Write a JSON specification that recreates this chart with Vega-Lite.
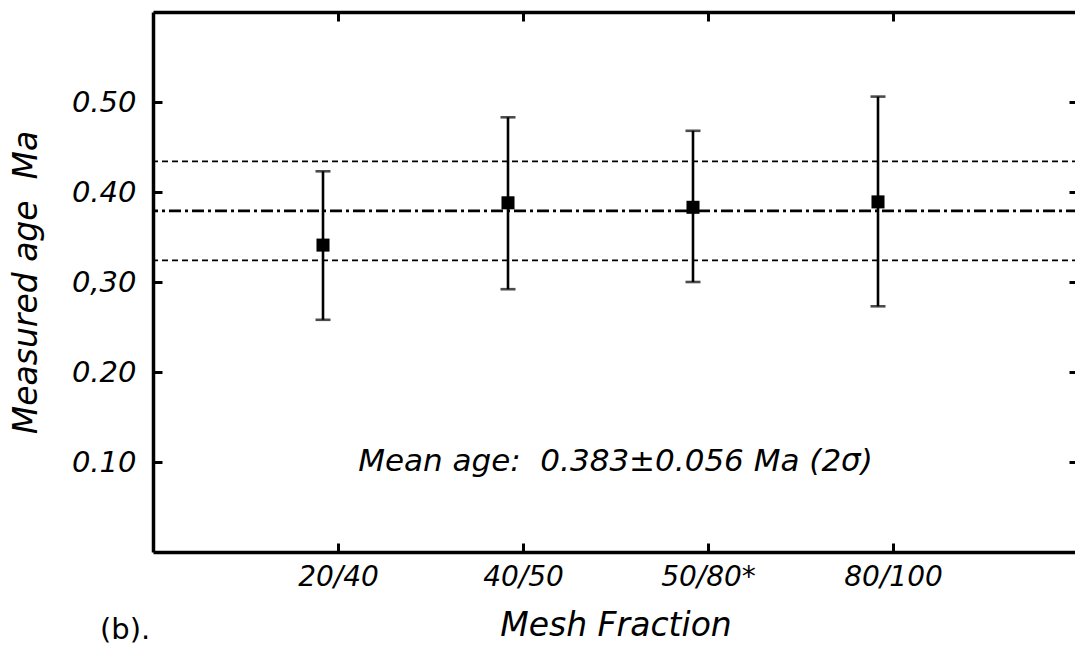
{
  "$schema": "https://vega.github.io/schema/vega-lite/v6.json",
  "autosize": "none",
  "padding": {"left": 153, "top": 12, "right": 0, "bottom": 102},
  "width": 925,
  "height": 540,
  "background": "white",
  "datasets": {
    "samples": [
      {"mesh": "20/40", "pos": 1, "age": 0.341, "lo": 0.258, "hi": 0.423},
      {"mesh": "40/50", "pos": 2, "age": 0.388, "lo": 0.292, "hi": 0.483},
      {"mesh": "50/80*", "pos": 3, "age": 0.383, "lo": 0.300, "hi": 0.468},
      {"mesh": "80/100", "pos": 4, "age": 0.389, "lo": 0.273, "hi": 0.506}
    ],
    "lines": [
      {"kind": "upper", "v": 0.434},
      {"kind": "mean", "v": 0.379},
      {"kind": "lower", "v": 0.324}
    ]
  },
  "layer": [
    {
      "data": {"name": "lines"},
      "transform": [{"filter": "datum.kind != 'mean'"}],
      "mark": {"type": "rule", "color": "black", "strokeWidth": 1.6, "strokeDash": [6, 4]},
      "encoding": {
        "y": {"field": "v", "type": "quantitative", "scale": {"domain": [0, 0.6]},
          "axis": {"orient": "left", "values": [0.1, 0.2, 0.3, 0.4, 0.5], "title": "Measured age\u00a0\u00a0Ma",
            "labelExpr": "datum.value == 0.3 ? '0,30' : format(datum.value, '.2f')", "labelPadding": 26, "titlePadding": 28, "labelFontSize": 29}}
      }
    },
    {
      "data": {"name": "lines"},
      "transform": [{"filter": "datum.kind == 'mean'"}],
      "mark": {"type": "rule", "color": "black", "strokeWidth": 2.6, "strokeDash": [12, 4, 3, 4]},
      "encoding": {
        "y": {"field": "v", "type": "quantitative", "scale": {"domain": [0, 0.6]},
          "axis": {"orient": "right", "values": [0.1, 0.2, 0.3, 0.4, 0.5], "labels": false, "domain": false, "title": null}}
      }
    },
    {
      "data": {"name": "samples"},
      "mark": {"type": "rule", "color": "black", "strokeWidth": 2.6, "xOffset": -15},
      "encoding": {
        "x": {"field": "pos", "type": "quantitative", "scale": {"domain": [0, 5]},
          "axis": {"orient": "bottom", "values": [1, 2, 3, 4], "title": "Mesh Fraction",
            "labelExpr": "datum.value == 1 ? '20/40' : datum.value == 2 ? '40/50' : datum.value == 3 ? '50/80*' : '80/100'",
            "labelPadding": 20, "titlePadding": 18}},
        "y": {"field": "lo", "type": "quantitative", "axis": null},
        "y2": {"field": "hi"}
      }
    },
    {
      "data": {"name": "samples"},
      "mark": {"type": "tick", "color": "black", "orient": "horizontal", "size": 15, "thickness": 2.6, "xOffset": -15},
      "encoding": {
        "x": {"field": "pos", "type": "quantitative", "scale": {"domain": [0, 5]},
          "axis": {"orient": "top", "values": [1, 2, 3, 4], "labels": false, "title": null}},
        "y": {"field": "hi", "type": "quantitative", "axis": null}
      }
    },
    {
      "data": {"name": "samples"},
      "mark": {"type": "tick", "color": "black", "orient": "horizontal", "size": 15, "thickness": 2.6, "xOffset": -15},
      "encoding": {
        "x": {"field": "pos", "type": "quantitative", "axis": null},
        "y": {"field": "lo", "type": "quantitative", "axis": null}
      }
    },
    {
      "data": {"name": "samples"},
      "mark": {"type": "point", "shape": "square", "filled": true, "color": "black", "size": 170, "opacity": 1, "xOffset": -15},
      "encoding": {
        "x": {"field": "pos", "type": "quantitative", "axis": null},
        "y": {"field": "age", "type": "quantitative", "axis": null}
      }
    },
    {
      "data": {"values": [{}]},
      "mark": {"type": "text", "font": "DejaVu Sans", "fontStyle": "italic", "fontSize": 31, "color": "black", "align": "center", "baseline": "middle"},
      "encoding": {
        "x": {"datum": 2.5, "type": "quantitative", "axis": null},
        "y": {"datum": 0.1, "type": "quantitative", "axis": null},
        "text": {"value": "Mean age:\u00a0\u00a00.383±0.056\u00a0Ma (2σ)"}
      }
    }
  ],
  "title": {"text": "(b).", "orient": "bottom", "anchor": "start", "frame": "group", "dx": -53, "offset": -26,
    "font": "DejaVu Sans", "fontSize": 29, "fontWeight": "normal", "color": "black"},
  "config": {
    "view": {"stroke": null},
    "axis": {
      "grid": false,
      "domainColor": "black",
      "domainWidth": 3.5,
      "tickColor": "black",
      "tickWidth": 3,
      "tickSize": -9,
      "labelFont": "DejaVu Sans",
      "labelFontStyle": "italic",
      "labelFontSize": 28,
      "labelColor": "black",
      "titleFont": "DejaVu Sans",
      "titleFontStyle": "italic",
      "titleFontWeight": "normal",
      "titleFontSize": 33,
      "titleColor": "black"
    }
  }
}
